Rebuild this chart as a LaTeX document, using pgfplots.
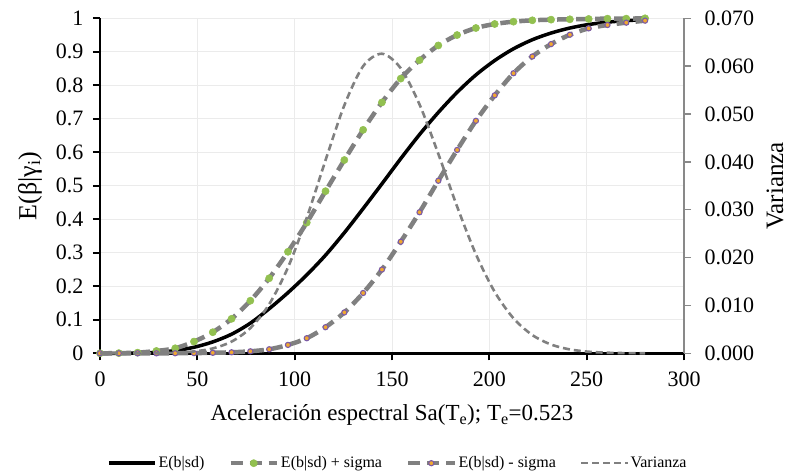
\documentclass[border=0pt]{standalone}
\usepackage{fontspec}
\setmainfont{Liberation Serif}
\usepackage{pgfplots}
\usepackage{pgfplotstable}
\pgfplotsset{compat=1.18}
\definecolor{gridc}{HTML}{EBEBEB}
\definecolor{dashg}{HTML}{808080}
\definecolor{greenm}{HTML}{92C050}
\definecolor{purplem}{HTML}{7B5BA6}
\definecolor{orangem}{HTML}{F0A830}
\definecolor{raxis}{HTML}{898989}
\pgfplotstableread{
x mean plus minus var
0 0 0 0 0
9.655 0.0001 0.0005 0 0
19.31 0.0008 0.002 0 0
28.97 0.003 0.007 0 0
38.62 0.008 0.015 0.0002 0.00013
48.28 0.018 0.035 0.0006 0.00039
57.93 0.034 0.063 0.0015 0.00102
67.59 0.057 0.103 0.003 0.00244
77.24 0.090 0.157 0.006 0.00527
86.90 0.133 0.224 0.012 0.01024
96.55 0.181 0.303 0.025 0.01793
106.21 0.234 0.390 0.045 0.02832
115.86 0.293 0.484 0.078 0.04035
125.52 0.360 0.577 0.122 0.05183
135.17 0.432 0.667 0.180 0.06000
144.83 0.506 0.749 0.250 0.06260
154.48 0.581 0.820 0.333 0.05957
164.14 0.653 0.875 0.421 0.05200
173.79 0.719 0.919 0.515 0.04168
183.45 0.779 0.950 0.607 0.03066
193.10 0.831 0.971 0.694 0.02071
202.76 0.874 0.983 0.770 0.01283
212.41 0.909 0.990 0.836 0.00731
222.07 0.936 0.994 0.886 0.00382
231.72 0.956 0.996 0.923 0.00183
241.38 0.971 0.997 0.951 0.00081
251.03 0.9815 0.998 0.970 0.00033
260.69 0.9885 0.999 0.980 0.00012
270.34 0.993 0.999 0.987 0.00004
280 0.996 1.000 0.993 0.00001
}\data
\tikzset{
  meanstyle/.style={black, line width=3.5pt, smooth, no markers},
  plusstyle/.style={dashg, line width=4.5pt, dash pattern=on 12pt off 7pt, smooth,
     mark=*, mark size=3.6pt, mark options={solid, fill=greenm, draw=greenm, line width=0.5pt}},
  minusstyle/.style={dashg, line width=4.5pt, dash pattern=on 12pt off 7pt, smooth,
     mark=*, mark size=2.6pt, mark options={solid, fill=orangem, draw=purplem, line width=1.1pt}},
  varstyle/.style={dashg, line width=2.6pt, dash pattern=on 7pt off 4pt, smooth, no markers},
}
\begin{document}
\begin{tikzpicture}
\useasboundingbox (0,0) rectangle (791pt,475pt);
\pgfplotsset{
  base/.style={
    scale only axis, width=584pt, height=335pt,
    at={(100pt,121.7pt)}, anchor=south west,
    xmin=0, xmax=300, clip=false,
    tick label style={font=\fontsize{22}{24}\selectfont},
    /pgf/number format/assume math mode=true,
    label style={font=\fontsize{23}{26}\selectfont},
  }
}
\begin{axis}[base,
  ymin=0, ymax=1,
  axis x line*=bottom, axis y line*=left,
  axis line style={black, line width=2.8pt, -},
  xtick={0,50,...,300},
  ytick={0,0.1,0.2,0.3,0.4,0.5,0.6,0.7,0.8,0.9,1},
  yticklabels={0,0.1,0.2,0.3,0.4,0.5,0.6,0.7,0.8,0.9,1},
  yticklabel style={xshift=-6pt},
  xticklabel style={yshift=-8pt},
  tick align=outside, major tick length=7pt,
  tick style={black, line width=2.2pt},
  grid=major, major grid style={gridc, line width=1pt},
  xlabel={Aceleración espectral Sa(T\textsubscript{e}); T\textsubscript{e}=0.523},
  ylabel={E(β|γ\textsubscript{i})},
  xlabel style={at={(axis description cs:0.5,-0.185)}, anchor=center},
  ylabel style={at={(axis description cs:-0.12,0.5)}, anchor=center, font=\fontsize{26}{28}\selectfont},
]
\addplot[meanstyle] table[x=x, y=mean] {\data};
\addplot[plusstyle] table[x=x, y=plus] {\data};
\addplot[minusstyle] table[x=x, y=minus] {\data};
\end{axis}
\begin{axis}[base,
  ymin=0, ymax=0.07,
  axis x line=none, axis y line*=right,
  axis line style={raxis, line width=1.5pt, -},
  ytick={0,0.01,0.02,0.03,0.04,0.05,0.06,0.07},
  scaled y ticks=false,
  yticklabel style={xshift=10pt, /pgf/number format/.cd, fixed, fixed zerofill, precision=3},
  tick align=outside, major tick length=7pt,
  tick style={raxis, line width=1.5pt},
  ylabel={Varianza},
  ylabel style={at={(axis description cs:1.156,0.5)}, anchor=center, font=\fontsize{25}{27}\selectfont},
  legend columns=4,
  legend style={draw=none, fill=none, at={(0.51,-0.328)}, anchor=center,
    font=\fontsize{16}{18}\selectfont,
    /tikz/every even column/.append style={column sep=22pt}},
  legend image code/.code={\draw[mark repeat=2,mark phase=2,#1] plot coordinates {(0pt,0pt) (23pt,0pt) (46pt,0pt)};},
]
\addlegendimage{meanstyle}\addlegendentry{E(b|sd)}
\addlegendimage{plusstyle}\addlegendentry{E(b|sd) + sigma}
\addlegendimage{minusstyle}\addlegendentry{E(b|sd) - sigma}
\addplot[varstyle] table[x=x, y=var] {\data};
\addlegendentry{Varianza}
\end{axis}
\end{tikzpicture}
\end{document}
